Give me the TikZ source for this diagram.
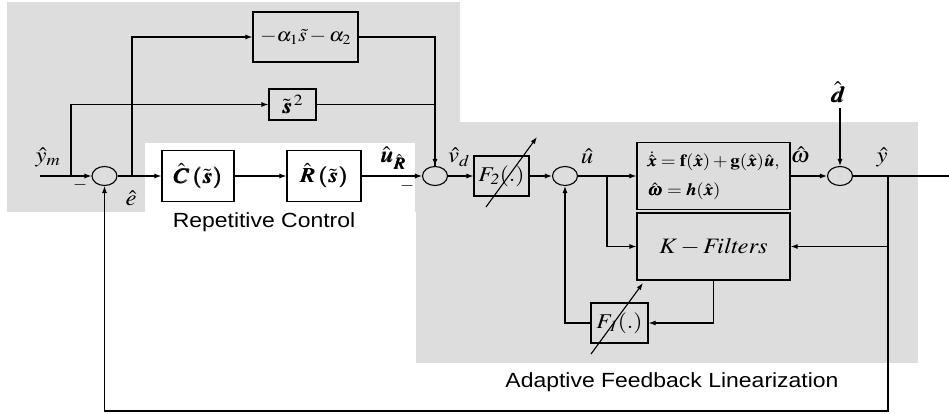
\documentclass[tikz,border=0pt]{standalone}
\usepackage{mathptmx}
\usepackage{bm}
\usepackage[no-math]{fontspec}
\setsansfont{Liberation Sans}
\usetikzlibrary{shapes.geometric,arrows.meta}
\definecolor{bggray}{RGB}{221,221,221}
\newcommand{\hs}[1]{\scalebox{1.12}[1]{#1}}
\tikzset{
  box/.style={draw, line width=1.2pt, inner sep=0pt, font=\fontsize{21}{25}\selectfont},
  sumj/.style={ellipse, draw, line width=1.1pt, minimum width=25pt, minimum height=19pt, inner sep=0pt},
  wire/.style={line width=1.1pt},
  arr/.style={wire, -{Latex[length=7pt,width=5pt]}},
  lab/.style={inner sep=0pt, font=\fontsize{22}{26}\selectfont},
  minus/.style={inner sep=0pt, font=\fontsize{18}{20}\selectfont},
  sflab/.style={inner sep=0pt, font=\sffamily\fontsize{20.5}{24}\selectfont}
}
\begin{document}
\begin{tikzpicture}[x=1pt,y=-1pt]
\useasboundingbox (0,0) rectangle (949,414);
% background regions
\fill[bggray] (7,2) rectangle (460,212);
\fill[bggray] (416,122) rectangle (918,363);
\fill[white] (145,143) rectangle (415,216);
% blocks
\node[sumj] (s1) at (104.5,176) {};
\node[box, minimum width=72pt, minimum height=51pt] (C) at (198,176) {\hs{$\bm{\hat C\,(\tilde s)}$}};
\node[box, minimum width=74pt, minimum height=51pt] (R) at (324,176) {\hs{$\bm{\hat R\,(\tilde s)}$}};
\node[sumj] (s2) at (435,176) {};
\node[box, minimum width=105pt, minimum height=50pt, font=\fontsize{19}{23}\selectfont] (A) at (305.5,37) {\hs{$-\alpha_1\tilde s-\alpha_2$}};
\node[box, minimum width=47pt, minimum height=31pt] (S) at (292.5,104.5) {\hs{$\bm{\tilde s}^{\,2}$}};
\node[box, minimum width=55pt, minimum height=40pt] (F2) at (501.5,176) {\hs{$F_{\mathit 2}(.)$}};
\node[sumj] (s3) at (565,176) {};
\node[box, minimum width=153pt, minimum height=67pt, align=left, font=\fontsize{17}{29}\selectfont] (P) at (713.5,176)
  {\hs{$\bm{\dot{\hat x}} = \mathbf f(\bm{\hat x}) + \mathbf g(\bm{\hat x})\bm{\hat u},$}\\ \hs{$\bm{\hat\omega} = \bm h(\bm{\hat x})$}};
\node[box, minimum width=153pt, minimum height=67pt, font=\fontsize{22}{26}\selectfont] (K) at (713.5,246.5) {\hs{$K - \mathit{Filters}$}};
\node[sumj] (s4) at (840,176) {};
\node[box, minimum width=57pt, minimum height=40pt] (F1) at (619.5,323) {\hs{$F_{\mathit 1}(.)$}};
% coordinates
\coordinate (in) at (40,176);
\coordinate (b1) at (71,176);
\coordinate (b2) at (132,176);
\coordinate (b3) at (607,176);
\coordinate (b4) at (888,176);
\coordinate (out) at (949,176);
\coordinate (dtop) at (840,108);
\coordinate (bot) at (888,411);
% wires
\draw[arr] (in) -- (s1);
\draw[arr] (b1) |- (S);
\draw[arr] (b2) |- (A);
\draw[arr] (s1) -- (C);
\draw[arr] (C) -- (R);
\draw[arr] (R) -- (s2);
\draw[wire] (S) -| (s2);
\draw[arr] (A) -| (s2);
\draw[arr] (s2) -- (F2);
\draw[arr] (F2) -- (s3);
\draw[arr] (s3) -- (P);
\draw[arr] (P) -- (s4);
\draw[arr] (dtop) -- (s4);
\draw[wire] (s4) -- (out);
\draw[arr] (b3) |- (K);
\draw[arr] (b4) |- (K);
\draw[arr] (b4) -- (bot) -| (s1);
\draw[arr] (K.south) |- (F1);
\draw[arr] (F1) -| (s3);
% adjustable arrows
\draw[arr] ([shift={(-15.5,31)}]F2.center) -- ([shift={(35.5,-39)}]F2.center);
\draw[arr] ([shift={(-28.5,31)}]F1.center) -- ([shift={(23.5,-40)}]F1.center);
% labels
\node[lab] (lym) at (48,157) {\hs{$\hat y_m$}};
\node[minus] (m1) at (80,185) {$-$};
\node[lab] (le) at (131,198) {\hs{$\hat e$}};
\node[lab] (lur) at (393,158) {\hs{$\bm{\hat u}_{\bm{\hat R}}$}};
\node[minus] (m2) at (407,186) {$-$};
\node[lab] (lvd) at (459,157) {\hs{$\hat v_d$}};
\node[lab] (lu) at (587,156) {\hs{$\hat u$}};
\node[lab] (lw) at (800,155) {\hs{$\hat\omega$}};
\node[lab] (ld) at (838,92) {\hs{$\bm{\hat d}$}};
\node[lab] (ly) at (882,157) {\hs{$\hat y$}};
\node[sflab] (rc) at (264,222) {\hs{Repetitive Control}};
\node[sflab] (afl) at (672,382) {\hs{Adaptive Feedback Linearization}};
\end{tikzpicture}
\end{document}
